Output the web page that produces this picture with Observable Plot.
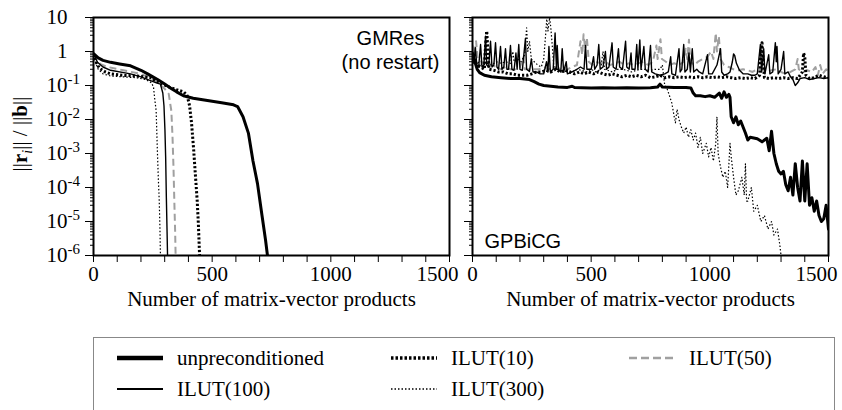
<!DOCTYPE html>
<html>
<head>
<meta charset="utf-8">
<script src="https://cdn.jsdelivr.net/npm/d3@7"></script>
<script src="https://cdn.jsdelivr.net/npm/@observablehq/plot@0.6"></script>
<style>
  html, body { margin: 0; padding: 0; background: #fff; }
  #wrap { position: relative; width: 842px; height: 410px; overflow: hidden; background: #fff;
          font-family: "Liberation Serif", "Times New Roman", serif; color: #000; }
  #left, #right { position: absolute; top: 0; }
  #left { left: 0; }
  #right { left: 460px; }
  #ylab { position: absolute; left: 22px; top: 134px; transform: translate(-50%, -50%) rotate(-90deg);
          white-space: nowrap; font-size: 21px; }
  #legend { position: absolute; left: 93px; top: 337px; width: 742px; height: 100px;
            border: 1px solid #888; box-sizing: border-box; }
  .item { position: absolute; display: flex; align-items: center; height: 24px; font-size: 21px; white-space: nowrap; }
  .item svg { margin-right: 14px; }
</style>
</head>
<body>
<div id="wrap">
  <div id="left"></div>
  <div id="right"></div>
  <div id="ylab">||<b>r</b><sub style="font-size:14px"><i>i</i></sub>|| / ||<b>b</b>||</div>
  <div id="legend"></div>
</div>
<script>
// ---------- data ----------
const seriesNames = ["unpreconditioned", "ILUT(10)", "ILUT(50)", "ILUT(100)", "ILUT(300)"];
const xTickValues = [0,100,200,300,400,500,600,700,800,900,1000,1100,1200,1300,1400,1500];
const xTickLabels = [0, 500, 1000, 1500];
const yMajorTicks = [1e-6, 1e-5, 1e-4, 1e-3, 1e-2, 1e-1, 1, 10];
const xAxisTitle = "Number of matrix-vector products";
const leftTitle = "GMRes\n(no restart)";
const rightTitle = "GPBiCG";

// GMRes (left panel)
const gmresUnprec = [[0,0.87],[20,0.65],[40,0.55],[72,0.48],[110,0.43],[156,0.38],[200,0.28],[228,0.22],[250,0.18],[270,0.15],[300,0.11],[324,0.085],[350,0.065],[379,0.05],[420,0.042],[480,0.036],[540,0.031],[590,0.027],[607,0.024],[630,0.012],[653,0.0039],[672,0.0006],[691,0.00013],[710,0.000015],[725,0.0000028],[733,0.000001]];
const gmresIlut10 = [[0,0.85],[10,0.5],[25,0.32],[50,0.25],[72,0.22],[120,0.2],[180,0.19],[240,0.17],[260,0.14],[290,0.11],[320,0.09],[350,0.075],[380,0.065],[395,0.05],[405,0.025],[413,0.008],[422,0.0013],[430,0.0002],[437,0.00004],[442,0.000008],[447,0.000001]];
const gmresIlut50 = [[0,0.85],[15,0.6],[30,0.42],[60,0.35],[126,0.28],[198,0.22],[240,0.17],[270,0.12],[300,0.08],[317,0.057],[323,0.03],[328,0.018],[333,0.003],[337,0.0004],[341,0.00003],[344,0.000005],[346,0.000001]];
const gmresIlut100 = [[0,0.85],[10,0.6],[17,0.48],[40,0.35],[72,0.28],[156,0.22],[200,0.18],[240,0.14],[265,0.12],[282,0.11],[292,0.06],[297,0.025],[301,0.005],[304,0.0008],[307,0.00005],[310,0.000005],[312,0.000001]];
const gmresIlut300 = [[0,0.8],[10,0.45],[20,0.3],[40,0.22],[72,0.19],[120,0.18],[180,0.17],[220,0.15],[245,0.12],[253,0.087],[258,0.04],[264,0.018],[269,0.0013],[273,0.0002],[277,0.00004],[280,0.000006],[282,0.000001]];

// GPBiCG (right panel)
const gpbicgUnprec = [[0,0.9],[10,0.5],[20,0.3],[30,0.24],[50,0.2],[80,0.18],[120,0.17],[160,0.16],[200,0.16],[240,0.15],[260,0.13],[280,0.11],[300,0.1],[330,0.095],[360,0.09],[400,0.088],[420,0.095],[430,0.087],[460,0.086],[500,0.085],[550,0.086],[600,0.085],[650,0.086],[700,0.085],[750,0.086],[780,0.09],[790,0.11],[800,0.09],[850,0.087],[880,0.087],[900,0.088],[920,0.085],[930,0.06],[940,0.05],[960,0.05],[980,0.047],[1000,0.05],[1020,0.045],[1040,0.06],[1050,0.042],[1060,0.065],[1070,0.045],[1080,0.055],[1085,0.045],[1090,0.012],[1100,0.008],[1110,0.012],[1120,0.007],[1130,0.009],[1150,0.004],[1160,0.0025],[1170,0.003],[1200,0.0027],[1220,0.0022],[1240,0.0028],[1250,0.0012],[1260,0.0045],[1270,0.001],[1280,0.0005],[1290,0.0003],[1300,0.00025],[1310,0.0003],[1320,0.00012],[1330,0.00008],[1340,0.0002],[1350,0.00006],[1360,0.0005],[1370,0.0001],[1380,0.00004],[1390,0.0006],[1400,0.00004],[1410,0.0005],[1420,0.00003],[1430,0.00005],[1440,0.00002],[1450,0.00004],[1460,0.000015],[1470,0.00001],[1480,0.000012],[1490,0.00003],[1500,0.000006]];
const gpbicgIlut10 = [[0,0.8],[10,0.5],[20,0.4],[35,0.35],[50,0.3],[55,1.5],[60,4.0],[65,1.0],[70,0.3],[90,0.28],[110,0.25],[130,0.25],[150,0.22],[170,0.22],[190,0.2],[210,0.2],[230,0.2],[250,0.22],[270,0.25],[290,0.25],[310,0.28],[330,0.25],[350,0.3],[370,0.25],[390,0.28],[410,0.25],[430,0.22],[450,0.25],[470,0.22],[490,0.25],[510,0.22],[530,0.25],[550,0.22],[570,0.2],[590,0.22],[610,0.2],[630,0.18],[650,0.2],[670,0.18],[690,0.2],[710,0.18],[730,0.2],[750,0.17],[770,0.18],[790,0.2],[810,0.17],[830,0.18],[850,0.17],[870,0.18],[890,0.17],[910,0.18],[930,0.17],[950,0.18],[970,0.17],[990,0.18],[1010,0.17],[1030,0.18],[1050,0.17],[1070,0.18],[1090,0.17],[1110,0.16],[1130,0.17],[1150,0.16],[1170,0.17],[1190,0.16],[1210,0.2],[1215,1.0],[1220,1.8],[1225,0.5],[1230,0.17],[1250,0.16],[1270,0.17],[1290,0.16],[1310,0.17],[1330,0.16],[1350,0.17],[1370,0.16],[1390,0.25],[1395,0.9],[1400,0.7],[1405,0.2],[1420,0.16],[1440,0.17],[1460,0.2],[1480,0.18],[1500,0.17]];
const gpbicgIlut50 = [[0,1.5],[8,0.8],[15,2.0],[22,0.6],[35,0.5],[50,0.45],[65,0.5],[80,0.4],[100,0.35],[120,0.3],[140,0.35],[160,0.3],[180,0.3],[200,0.35],[215,0.7],[220,0.3],[240,0.3],[260,0.3],[280,0.3],[300,0.35],[320,0.3],[340,0.35],[360,0.3],[380,0.35],[400,0.3],[420,0.35],[440,0.4],[455,2.0],[462,0.8],[468,3.2],[475,1.2],[482,2.5],[490,0.5],[505,0.4],[520,0.5],[540,0.45],[560,0.5],[580,0.4],[600,0.45],[620,0.5],[640,0.4],[660,0.45],[680,0.4],[700,0.45],[720,0.5],[740,0.4],[760,0.5],[775,1.5],[780,0.6],[792,2.3],[798,0.6],[815,0.5],[830,0.4],[850,0.45],[870,0.4],[890,0.5],[898,1.2],[905,0.6],[912,2.2],[918,0.5],[935,0.4],[950,0.5],[970,0.6],[990,0.7],[1005,1.0],[1015,0.6],[1025,3.5],[1030,1.0],[1038,2.8],[1045,0.6],[1060,0.4],[1080,0.35],[1100,0.3],[1120,0.28],[1140,0.3],[1160,0.28],[1180,0.25],[1200,0.3],[1220,0.3],[1240,0.25],[1260,0.28],[1280,0.3],[1300,0.25],[1320,0.22],[1340,0.25],[1360,0.3],[1370,0.6],[1375,0.3],[1390,0.25],[1410,0.28],[1430,0.25],[1445,0.35],[1455,0.2],[1465,0.4],[1475,0.22],[1490,0.3],[1500,0.25]];
const gpbicgIlut100 = [[0,0.7],[6,0.45],[12,1.3],[18,0.4],[26,0.35],[34,1.6],[40,0.35],[48,0.4],[55,2.8],[60,0.4],[68,0.35],[76,2.0],[82,0.35],[90,0.4],[97,1.8],[103,0.35],[110,0.3],[118,1.4],[124,0.3],[132,0.35],[139,1.2],[145,0.3],[152,0.3],[160,1.5],[166,0.3],[175,0.28],[183,0.9],[188,0.3],[195,1.6],[200,0.3],[210,0.28],[223,2.4],[228,0.3],[240,0.26],[248,0.6],[255,0.25],[270,0.25],[285,0.22],[300,0.22],[312,0.5],[318,0.25],[322,1.4],[328,0.25],[340,0.3],[348,3.5],[354,0.3],[357,1.5],[362,0.3],[372,0.25],[378,1.2],[384,0.25],[395,0.5],[400,0.22],[420,0.25],[440,0.3],[455,0.35],[470,0.3],[476,1.5],[482,0.3],[500,0.3],[510,0.7],[515,0.3],[525,0.4],[532,1.6],[538,0.3],[550,0.35],[560,1.0],[565,0.3],[575,0.35],[588,1.8],[593,0.35],[605,0.3],[615,1.2],[620,0.35],[632,0.3],[645,2.0],[650,0.35],[660,0.3],[668,0.9],[672,0.3],[685,0.3],[692,1.6],[697,0.3],[705,2.2],[710,0.3],[722,1.4],[728,0.3],[740,0.25],[750,1.5],[755,0.25],[770,0.22],[790,0.2],[810,0.22],[825,0.25],[835,0.7],[840,0.22],[855,0.2],[870,1.2],[875,0.25],[882,0.3],[890,1.6],[895,0.25],[905,0.3],[912,0.9],[918,0.25],[926,1.2],[932,0.25],[945,0.3],[955,0.25],[970,0.22],[990,0.8],[995,0.22],[1010,0.22],[1030,0.4],[1045,1.2],[1050,0.25],[1060,0.2],[1075,0.22],[1085,0.25],[1095,0.5],[1100,0.85],[1105,0.75],[1112,0.45],[1125,0.28],[1140,0.22],[1160,0.22],[1175,0.2],[1190,0.2],[1200,0.22],[1213,1.6],[1218,0.25],[1227,1.2],[1232,0.22],[1248,0.8],[1253,0.22],[1265,0.25],[1276,1.8],[1280,0.5],[1283,1.4],[1288,0.22],[1300,0.3],[1311,1.0],[1316,0.22],[1330,0.25],[1340,0.18],[1350,0.15],[1360,0.1],[1370,0.12],[1380,0.16],[1400,0.17],[1420,0.15],[1440,0.16],[1460,0.17],[1480,0.16],[1500,0.17]];
const gpbicgIlut300 = [[0,0.9],[10,0.6],[20,0.5],[30,0.45],[45,0.4],[60,0.45],[80,0.4],[100,0.5],[120,0.45],[140,0.5],[160,0.45],[170,1.0],[175,0.5],[190,0.6],[205,0.5],[220,0.8],[228,5.0],[233,1.0],[240,2.0],[248,0.6],[260,0.5],[275,0.4],[290,0.35],[300,0.6],[308,3.0],[313,9.0],[318,4.0],[325,10],[330,5.0],[336,1.5],[342,0.4],[355,0.3],[370,0.28],[385,0.25],[400,0.28],[420,0.25],[440,0.3],[460,0.28],[480,0.25],[500,0.3],[520,0.25],[540,0.3],[550,1.0],[556,0.3],[570,0.28],[590,0.25],[610,0.3],[630,0.3],[650,0.28],[670,0.25],[690,0.28],[710,0.3],[730,0.3],[750,0.28],[770,0.3],[790,0.3],[800,0.4],[810,0.1],[820,0.08],[830,0.05],[840,0.03],[850,0.012],[855,0.008],[862,0.02],[870,0.01],[880,0.006],[890,0.004],[900,0.006],[910,0.003],[920,0.005],[930,0.0025],[940,0.004],[950,0.0015],[960,0.003],[970,0.001],[985,0.002],[995,0.0008],[1005,0.0015],[1015,0.0006],[1025,0.002],[1030,0.012],[1035,0.001],[1045,0.0004],[1055,0.0002],[1065,0.0003],[1075,0.0001],[1085,0.002],[1090,0.0008],[1100,0.0002],[1110,0.00006],[1120,0.00008],[1135,0.0002],[1145,0.00006],[1150,0.0005],[1155,0.00004],[1160,0.00004],[1175,0.0001],[1185,0.00002],[1200,0.00003],[1215,0.00001],[1230,0.000015],[1245,0.000006],[1260,0.00001],[1270,0.000004],[1285,0.000006],[1295,0.000002],[1300,0.000001]];

// ---------- styles ----------
const SERIF = '"Liberation Serif", "Times New Roman", serif';
const SANS = '"Liberation Sans", Arial, sans-serif';
const lineStyles = {
  "unpreconditioned": {stroke: "#000", width: 3, dash: null},
  "ILUT(10)": {stroke: "#000", width: 3, dash: "2.2,2"},
  "ILUT(50)": {stroke: "#a0a0a0", width: 2, dash: "7,4"},
  "ILUT(100)": {stroke: "#000", width: 1.4, dash: null},
  "ILUT(300)": {stroke: "#000", width: 1.2, dash: "1.5,2"}
};

function toRows(arrs) {
  const rows = [];
  seriesNames.forEach((s, i) => arrs[i].forEach(([x, y]) => rows.push({s, x, y})));
  return rows;
}
const gmresRows = toRows([gmresUnprec, gmresIlut10, gmresIlut50, gmresIlut100, gmresIlut300]);
const gpbicgRows = toRows([gpbicgUnprec, gpbicgIlut10, gpbicgIlut50, gpbicgIlut100, gpbicgIlut300]);

const yMinorTicks = [];
for (let e = -6; e <= 0; e++) for (let m = 2; m <= 9; m++) yMinorTicks.push(m * Math.pow(10, e));

function yFmt(d) {
  const e = Math.round(Math.log10(d));
  if (e === 1) return "10";
  if (e === 0) return "1";
  return "10^" + e;
}

function panel(rows, opt) {
  const drawOrder = ["ILUT(50)", "ILUT(300)", "ILUT(10)", "ILUT(100)", "unpreconditioned"];
  const lines = drawOrder.map(s => {
    const st = lineStyles[s];
    return Plot.line(rows.filter(d => d.s === s), {
      x: "x", y: "y", stroke: st.stroke, strokeWidth: st.width,
      strokeDasharray: st.dash || undefined,
      strokeLinecap: st.dash ? "butt" : "round", strokeLinejoin: "round", clip: true
    });
  });
  return Plot.plot({
    width: opt.width, height: 320,
    marginLeft: opt.ml, marginRight: opt.mr, marginTop: 17, marginBottom: 65,
    style: {fontFamily: SERIF, fontSize: "21px", color: "#000", background: "transparent", overflow: "visible"},
    x: {domain: [0, 1500]},
    y: {type: "log", domain: [1e-6, 10]},
    marks: [
      ...lines,
      Plot.axisY({ticks: yMajorTicks, tickSize: 8, tickPadding: 18, label: null,
                  tickFormat: opt.yLabels ? yFmt : () => "", fontSize: 21}),
      Plot.axisY({ticks: yMinorTicks, tickSize: 3, label: null, tickFormat: () => ""}),
      Plot.axisX({ticks: xTickValues, tickSize: 7, tickPadding: 4, label: null,
                  tickFormat: d => (xTickLabels.includes(d) && d !== 1500) ? String(d) : "", fontSize: 21}),
      Plot.axisX({ticks: [1500], tickSize: 0, tickPadding: 11, label: null, dx: -12,
                  tickFormat: d => String(d), fontSize: 21}),
      Plot.frame({stroke: "#000", strokeWidth: 2}),
      Plot.text([xAxisTitle], {text: d => d, frameAnchor: "bottom", dy: 50, fontSize: 21, fontFamily: SERIF}),
      opt.title
    ]
  });
}

const leftPlot = panel(gmresRows, {
  width: 460, ml: 93, mr: 11, yLabels: true,
  title: Plot.text([leftTitle], {text: d => d, frameAnchor: "top-right", dx: -59, dy: 10,
    textAnchor: "middle", lineAnchor: "top", lineHeight: 1.2, fontSize: 20, fontFamily: SANS})
});
const rightPlot = panel(gpbicgRows, {
  width: 382, ml: 12, mr: 14, yLabels: false,
  title: Plot.text([rightTitle], {text: d => d, frameAnchor: "bottom-left", dx: 12, dy: -8,
    textAnchor: "start", lineAnchor: "bottom", fontSize: 20, fontFamily: SANS})
});
document.getElementById("left").appendChild(leftPlot);
document.getElementById("right").appendChild(rightPlot);

// superscripts on the y tick labels
leftPlot.querySelectorAll('g[aria-label="y-axis tick label"] text').forEach(t => {
  const s = t.textContent;
  if (!s.includes("^")) return;
  const [base, exp] = s.split("^");
  t.textContent = "";
  const NS = "http://www.w3.org/2000/svg";
  const a = document.createElementNS(NS, "tspan");
  a.textContent = base;
  const b = document.createElementNS(NS, "tspan");
  b.textContent = exp;
  b.setAttribute("x", "0");
  b.setAttribute("dy", "-8");
  b.setAttribute("font-size", "15");
  b.setAttribute("text-anchor", "start");
  b.style.textAnchor = "start";
  t.appendChild(a);
  t.appendChild(b);
});

// legend
const legendItems = [
  {s: "unpreconditioned", left: 23, top: 8},
  {s: "ILUT(10)", left: 297, top: 8},
  {s: "ILUT(50)", left: 535, top: 8},
  {s: "ILUT(100)", left: 23, top: 39},
  {s: "ILUT(300)", left: 297, top: 39}
];
const legendSample = {
  "unpreconditioned": {w: 4.5, dash: null},
  "ILUT(10)": {w: 3.5, dash: "2.5,2"},
  "ILUT(50)": {w: 2.5, dash: "8,4"},
  "ILUT(100)": {w: 2, dash: null},
  "ILUT(300)": {w: 1.5, dash: "1.5,2"}
};
const legend = document.getElementById("legend");
legendItems.forEach(it => {
  const st = lineStyles[it.s], ls = legendSample[it.s];
  const div = document.createElement("div");
  div.className = "item";
  div.style.left = it.left + "px";
  div.style.top = it.top + "px";
  div.innerHTML = `<svg width="46" height="10"><line x1="0" x2="46" y1="5" y2="5" stroke="${st.stroke}" stroke-width="${ls.w}" ${ls.dash ? `stroke-dasharray="${ls.dash}"` : ""}/></svg><span>${it.s}</span>`;
  legend.appendChild(div);
});
</script>
</body>
</html>
